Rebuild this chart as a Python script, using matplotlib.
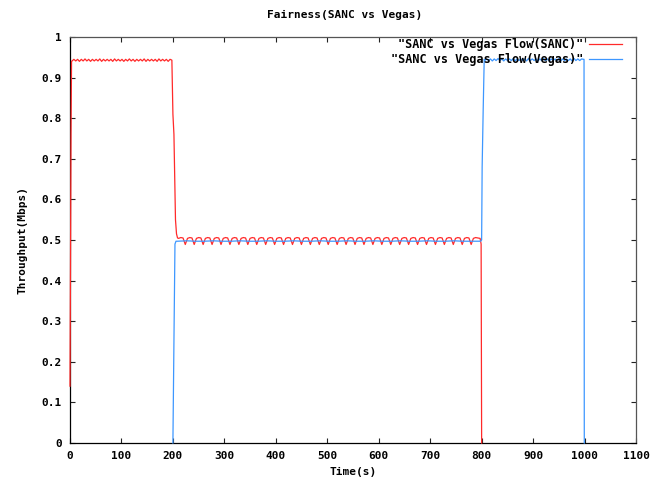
import numpy as np
import matplotlib
matplotlib.use("Agg")
import matplotlib.pyplot as plt

# ---- SANC flow ----
sanc_ramp_t = [0, 1, 2, 3]
sanc_ramp_v = [0.14, 0.43, 0.76, 0.94]

sanc_solo_t = np.linspace(4, 198, 55)
sanc_solo_v = [0.941, 0.945, 0.941, 0.945, 0.940, 0.945, 0.941, 0.946, 0.941, 0.945,
               0.940, 0.945, 0.941, 0.945, 0.941, 0.946, 0.940, 0.945, 0.941, 0.945,
               0.941, 0.945, 0.940, 0.946, 0.941, 0.945, 0.941, 0.945, 0.940, 0.945,
               0.941, 0.946, 0.941, 0.945, 0.940, 0.945, 0.941, 0.945, 0.941, 0.946,
               0.940, 0.945, 0.941, 0.945, 0.941, 0.945, 0.940, 0.946, 0.941, 0.945,
               0.941, 0.945, 0.940, 0.945, 0.943]

sanc_handover_t = [200, 202, 205, 207, 209]
sanc_handover_v = [0.81, 0.76, 0.55, 0.515, 0.505]

sanc_shared_t = np.linspace(211, 797, 136)
sanc_shared_v = [
    0.504, 0.506, 0.505, 0.489, 0.504, 0.506, 0.505, 0.489, 0.504, 0.506,
    0.505, 0.489, 0.504, 0.506, 0.505, 0.489, 0.504, 0.506, 0.505, 0.489,
    0.504, 0.506, 0.505, 0.489, 0.504, 0.506, 0.505, 0.489, 0.504, 0.506,
    0.505, 0.489, 0.504, 0.506, 0.505, 0.489, 0.504, 0.506, 0.505, 0.489,
    0.504, 0.506, 0.505, 0.489, 0.504, 0.506, 0.505, 0.489, 0.504, 0.506,
    0.505, 0.489, 0.504, 0.506, 0.505, 0.489, 0.504, 0.506, 0.505, 0.489,
    0.504, 0.506, 0.505, 0.489, 0.504, 0.506, 0.505, 0.489, 0.504, 0.506,
    0.505, 0.489, 0.504, 0.506, 0.505, 0.489, 0.504, 0.506, 0.505, 0.489,
    0.504, 0.506, 0.505, 0.489, 0.504, 0.506, 0.505, 0.489, 0.504, 0.506,
    0.505, 0.489, 0.504, 0.506, 0.505, 0.489, 0.504, 0.506, 0.505, 0.489,
    0.504, 0.506, 0.505, 0.489, 0.504, 0.506, 0.505, 0.489, 0.504, 0.506,
    0.505, 0.489, 0.504, 0.506, 0.505, 0.489, 0.504, 0.506, 0.505, 0.489,
    0.504, 0.506, 0.505, 0.489, 0.504, 0.506, 0.505, 0.489, 0.504, 0.506,
    0.505, 0.489, 0.504, 0.506, 0.505, 0.504]

sanc_exit_t = [799, 800]
sanc_exit_v = [0.49, 0.0]

# ---- Vegas flow ----
vegas_join_t = [200, 202, 204, 206]
vegas_join_v = [0.0, 0.25, 0.49, 0.497]

vegas_shared_t = np.linspace(209, 798, 35)
vegas_shared_v = [0.497, 0.498, 0.497, 0.497, 0.498, 0.497, 0.497, 0.498, 0.497, 0.497,
                  0.498, 0.497, 0.497, 0.498, 0.497, 0.497, 0.498, 0.497, 0.497, 0.498,
                  0.497, 0.497, 0.498, 0.497, 0.497, 0.498, 0.497, 0.497, 0.498, 0.497,
                  0.497, 0.498, 0.497, 0.497, 0.497]

vegas_takeover_t = [800, 801, 803, 805]
vegas_takeover_v = [0.50, 0.68, 0.82, 0.945]

vegas_solo_t = np.linspace(806, 998, 53)
vegas_solo_v = [0.942, 0.946, 0.942, 0.946, 0.941, 0.946, 0.942, 0.947, 0.942, 0.946,
                0.941, 0.946, 0.942, 0.946, 0.942, 0.947, 0.941, 0.946, 0.942, 0.946,
                0.942, 0.946, 0.941, 0.947, 0.942, 0.946, 0.942, 0.946, 0.941, 0.946,
                0.942, 0.947, 0.942, 0.946, 0.941, 0.946, 0.942, 0.946, 0.942, 0.947,
                0.941, 0.946, 0.942, 0.946, 0.942, 0.946, 0.941, 0.947, 0.942, 0.946,
                0.942, 0.946, 0.945]

vegas_exit_t = [999, 999.5]
vegas_exit_v = [0.945, 0.0]

x_ticks = list(range(0, 1101, 100))
y_ticks = [0, 0.1, 0.2, 0.3, 0.4, 0.5, 0.6, 0.7, 0.8, 0.9, 1]
y_tick_labels = ["0", "0.1", "0.2", "0.3", "0.4", "0.5", "0.6", "0.7", "0.8", "0.9", "1"]

sanc_t = np.concatenate([sanc_ramp_t, sanc_solo_t, sanc_handover_t, sanc_shared_t, sanc_exit_t])
sanc_v = np.concatenate([sanc_ramp_v, sanc_solo_v, sanc_handover_v, sanc_shared_v, sanc_exit_v])
vegas_t = np.concatenate([vegas_join_t, vegas_shared_t, vegas_takeover_t, vegas_solo_t, vegas_exit_t])
vegas_v = np.concatenate([vegas_join_v, vegas_shared_v, vegas_takeover_v, vegas_solo_v, vegas_exit_v])

font = {"family": "DejaVu Sans Mono", "weight": "bold", "size": 8}

fig = plt.figure(figsize=(6.67, 4.82), dpi=100)
ax = fig.add_axes([70 / 667, 1 - 443 / 482, (636 - 70) / 667, (443 - 37) / 482])

ax.plot(sanc_t, sanc_v, color="#ff2a2a", lw=0.9, zorder=3, clip_on=False,
        label='"SANC vs Vegas Flow(SANC)"')
ax.plot(vegas_t, vegas_v, color="#3d97ff", lw=0.9, zorder=3, clip_on=False,
        label='"SANC vs Vegas Flow(Vegas)"')

ax.set_xlim(0, 1100)
ax.set_ylim(0, 1)
ax.set_xticks(x_ticks)
ax.set_xticklabels([str(v) for v in x_ticks], fontdict=font)
ax.set_yticks(y_ticks)
ax.set_yticklabels(y_tick_labels, fontdict=font)
ax.tick_params(direction="in", length=3.5, width=0.8, top=True, right=True, pad=6,
               color="#222222")

for side in ("left", "bottom"):
    ax.spines[side].set_color("#000000")
    ax.spines[side].set_linewidth(0.9)
for side in ("top", "right"):
    ax.spines[side].set_color("#555555")
    ax.spines[side].set_linewidth(0.9)

ax.set_xlabel("Time(s)", fontdict=font, labelpad=4)
ax.set_ylabel("Throughput(Mbps)", fontdict=font, labelpad=10)
fig.text(345 / 667, 1 - 15 / 482, "Fairness(SANC vs Vegas)", ha="center", va="center", **font)

leg = ax.legend(loc="upper right", bbox_to_anchor=((622 - 70) / 566, (443 - 38) / 406),
                markerfirst=False, frameon=False, prop=dict(family="DejaVu Sans Mono",
                weight="bold", size=8.5), handlelength=2.8, handletextpad=0.5,
                labelspacing=0.15, borderpad=0, borderaxespad=0)

fig.savefig("out.png", dpi=100, facecolor="white")
